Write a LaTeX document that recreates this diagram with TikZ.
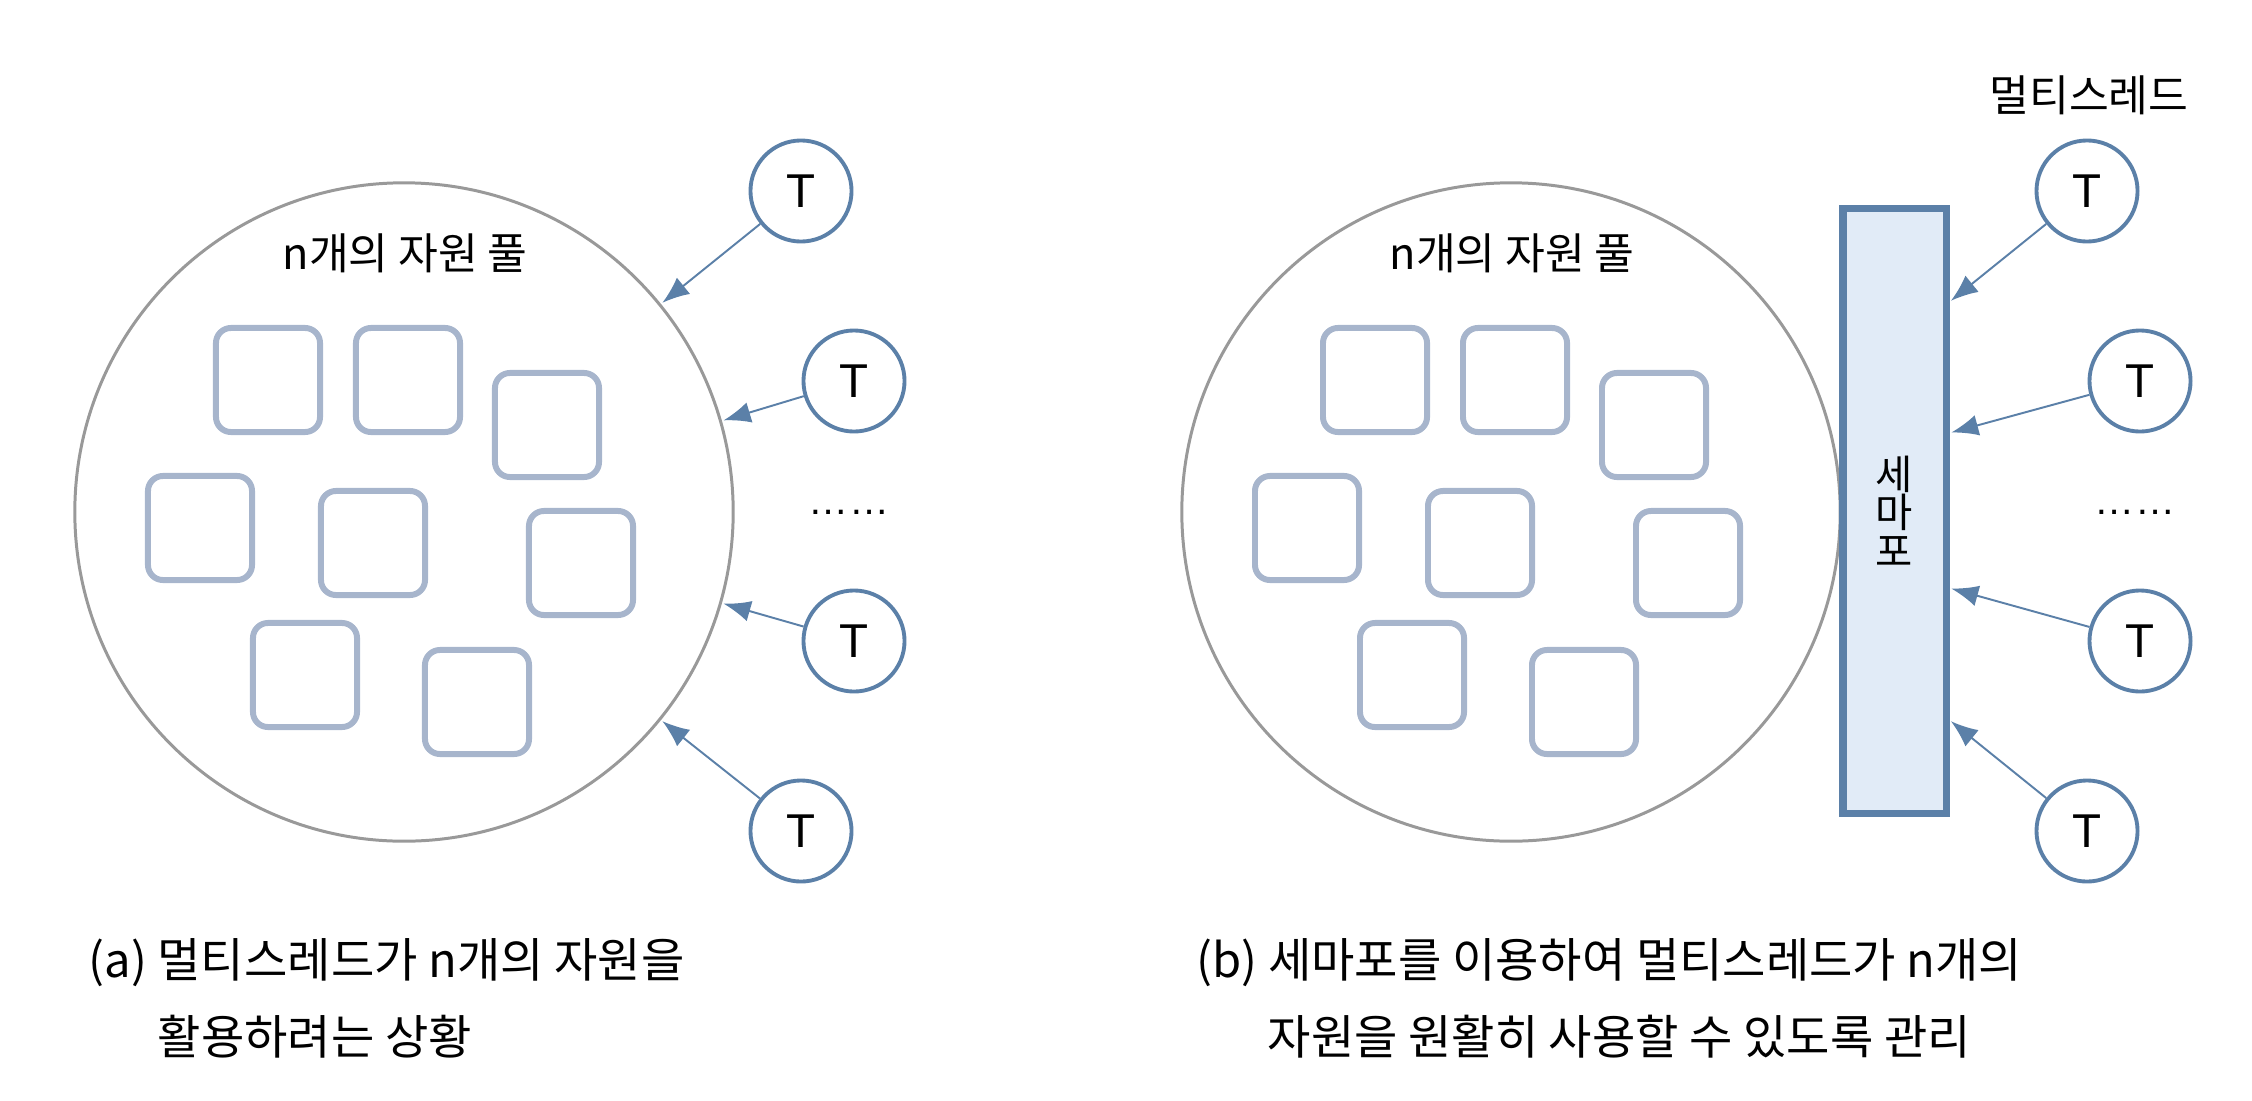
\documentclass[tikz,border=0pt]{standalone}
\usepackage{fontspec}
\setmainfont{Liberation Sans}
\newfontfamily\kr{Noto Sans CJK KR}
\usetikzlibrary{arrows.meta, positioning}
\definecolor{tblue}{RGB}{91,128,168}
\definecolor{resgray}{RGB}{167,181,204}
\definecolor{poolgray}{RGB}{153,153,153}
\definecolor{semafill}{RGB}{225,235,247}

\begin{document}
\begin{tikzpicture}[x=0.01cm, y=-0.01cm,
        pool/.style={circle, draw=poolgray, line width=0.85pt, minimum size=6.58cm,
                     inner sep=0pt},
        res/.style={draw=resgray, line width=1.7pt, rounded corners=0.15cm,
                    minimum size=1.04cm, inner sep=0pt},
        thr/.style={circle, draw=tblue, line width=1.1pt, minimum size=1.01cm,
                    inner sep=0pt, font=\fontsize{13.5}{16}\selectfont},
        arr/.style={-{Latex[length=0.27cm, width=0.21cm]}, tblue, line width=0.55pt,
                    shorten >=0.5pt},
        lbl/.style={font=\kr\fontsize{12.3}{14}\selectfont},
        captxt/.style={font=\kr\fontsize{13.4}{16}\selectfont, anchor=base west,
                    inner sep=0pt}]
      \useasboundingbox (0,0) rectangle (2252,1100);

      % (a) resource pool without semaphore
      \node[pool] (poolA) at (404,512) {};
      \node[lbl] (poolAlbl) at (405,253) {n개의 자원 풀};
      \foreach \x/\y [count=\i] in {268/380, 408/380, 547/425, 200/528,
                                  373/543, 581/563, 305/675, 477/702}
        \node[res] (resA\i) at (\x,\y) {};
      \node[thr] (tA1) at (801,191) {T};
      \node[thr] (tA2) at (854,381) {T};
      \node[thr] (tA3) at (854,641) {T};
      \node[thr] (tA4) at (801,831) {T};
      \node[font=\fontsize{11.4}{14}\selectfont, anchor=base] (dotsA) at (849,514) {……};
      \draw[arr] (tA1) -- (poolA.39);
      \draw[arr] (tA2) -- (poolA.16.5);
      \draw[arr] (tA3) -- (poolA.-16);
      \draw[arr] (tA4) -- (poolA.-39);

      % (b) resource pool behind a semaphore
      \node[pool] (poolB) at (1511,512) {};
      \node[lbl] (poolBlbl) at (1512,253) {n개의 자원 풀};
      \foreach \x/\y [count=\i] in {268/380, 408/380, 547/425, 200/528,
                                  373/543, 581/563, 305/675, 477/702}
        \node[res] (resB\i) at (\x+1107,\y) {};
      \node[draw=tblue, fill=semafill, line width=2pt, minimum width=1.03cm,
            minimum height=6.04cm, inner sep=0pt, align=center,
            font=\kr\fontsize{11.5}{12}\selectfont] (sema) at (1894.5,511)
            {세\\[-1pt]마\\[-1pt]포};
      \node[thr] (tB1) at (2087,191) {T};
      \node[thr] (tB2) at (2140,381) {T};
      \node[thr] (tB3) at (2140,641) {T};
      \node[thr] (tB4) at (2087,831) {T};
      \node[lbl] (multi) at (2089,95) {멀티스레드};
      \node[font=\fontsize{11.4}{14}\selectfont, anchor=base] (dotsB) at (2135,514) {……};
      \coordinate (s1) at ([yshift=2.09cm]sema.east);
      \coordinate (s2) at ([yshift=0.78cm]sema.east);
      \coordinate (s3) at ([yshift=-0.77cm]sema.east);
      \coordinate (s4) at ([yshift=-2.09cm]sema.east);
      \draw[arr] (tB1) -- (s1);
      \draw[arr] (tB2) -- (s2);
      \draw[arr] (tB3) -- (s3);
      \draw[arr] (tB4) -- (s4);

      % captions
      \node[captxt] (capA1) at (88,977) {(a) 멀티스레드가 n개의 자원을};
      \node[captxt] (capA2) at (157,1054) {활용하려는 상황};
      \node[captxt] (capB1) at (1196,977) {(b) 세마포를 이용하여 멀티스레드가 n개의};
      \node[captxt] (capB2) at (1267,1054) {자원을 원활히 사용할 수 있도록 관리};
    \end{tikzpicture}
\end{document}
